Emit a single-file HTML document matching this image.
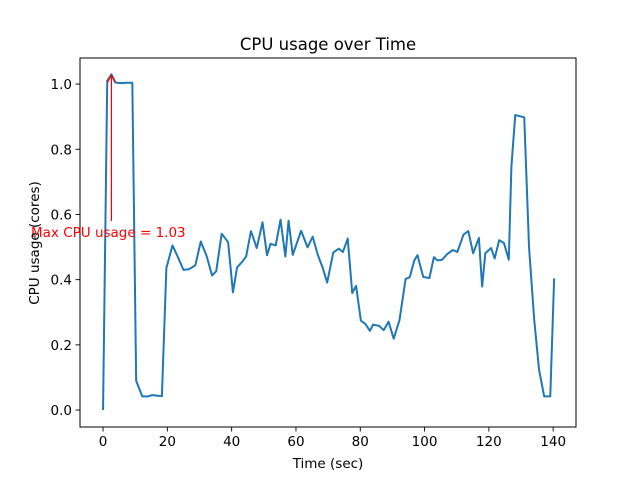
<!DOCTYPE html>
<html><head><meta charset="utf-8"><style>
html,body{margin:0;padding:0;background:#fff;}
svg text{font-family:"DejaVu Sans","Liberation Sans",sans-serif;}
</style></head><body>
<svg id="chart" width="640" height="480" viewBox="0 0 640 480">
<rect width="640" height="480" fill="#fff"/>
<text x="328" y="50" font-size="16.5" text-anchor="middle" fill="#000">CPU usage over Time</text>
<g id="plot"></g>
<text x="328" y="468" font-size="13.5" text-anchor="middle">Time (sec)</text>
<text transform="translate(39,243) rotate(-90)" font-size="13.5" text-anchor="middle">CPU usage (cores)</text>
</svg>
<script>
const times=[0,1.3,2.6,3.8,5.5,7.3,9.1,10.3,12.2,14.1,15.3,16.9,18.3,19.7,21.6,23.3,25,26.7,28.7,30.4,32.2,33.9,35.2,36.9,38.9,40.4,41.7,43.2,44.5,46,47.8,49.6,51,52.1,53.7,55.2,56.7,57.7,59,61.6,63.6,65.2,66.8,68.3,69.7,71.6,73.3,74.6,76.1,77.5,78.7,80.2,81.6,83,84,85.9,87.3,88.8,90.4,92.2,94.1,95.4,96.8,97.8,99.6,101.5,102.9,104,105.4,107.1,108.8,110.2,112.1,113.6,115.1,116.9,117.9,118.9,120.7,121.8,123.2,124.7,126.2,127,128.2,131,132.5,134.1,135.6,137.2,139.1,140.3];
const usage=[0,1.01,1.03,1.005,1.003,1.004,1.004,0.09,0.042,0.042,0.046,0.044,0.043,0.436,0.505,0.469,0.43,0.432,0.444,0.517,0.473,0.413,0.426,0.541,0.515,0.361,0.438,0.454,0.471,0.549,0.497,0.576,0.475,0.51,0.505,0.584,0.471,0.581,0.476,0.55,0.499,0.532,0.476,0.437,0.391,0.483,0.495,0.485,0.526,0.359,0.381,0.274,0.264,0.243,0.262,0.258,0.245,0.271,0.219,0.276,0.402,0.408,0.459,0.475,0.408,0.405,0.469,0.459,0.461,0.479,0.491,0.485,0.538,0.549,0.481,0.528,0.379,0.481,0.497,0.465,0.521,0.512,0.461,0.745,0.905,0.898,0.498,0.278,0.124,0.042,0.042,0.404];
const xTicks=[0,20,40,60,80,100,120,140];
const yTicks=[0,0.2,0.4,0.6,0.8,1.0];
const maxLabel="Max CPU usage = 1.03";

const L=80,R=576,T=58,B=427;
const xmin=-7.17,xmax=147.1,ymin=-0.052,ymax=1.08;
const xs=v=>L+(v-xmin)/(xmax-xmin)*(R-L);
const ys=v=>B-(v-ymin)/(ymax-ymin)*(B-T);
const NS="http://www.w3.org/2000/svg";
const g=document.getElementById('plot');
function mk(t,a,p){const e=document.createElementNS(NS,t);for(const k in a)e.setAttribute(k,a[k]);(p||g).appendChild(e);return e;}

const frame=mk('rect',{x:L,y:T,width:R-L,height:B-T,fill:'none',stroke:'#000','stroke-width':1});



xTicks.forEach(v=>{
  const x=xs(v);
  const tk=mk('line',{x1:x,x2:x,y1:B,y2:B+4.5,stroke:'#000','stroke-width':0.9});
  
  
  const tx=mk('text',{x:x,y:B+19,'font-size':13.5,'text-anchor':'middle'});
  tx.textContent=v;
  
  
});
yTicks.forEach(v=>{
  const y=ys(v);
  const tk=mk('line',{x1:L-4.5,x2:L,y1:y,y2:y,stroke:'#000','stroke-width':0.9});
  
  
  const tx=mk('text',{x:L-8,y:y+5,'font-size':13.5,'text-anchor':'end'});
  tx.textContent=v.toFixed(1);
  
  
});

const pts=times.map((t,i)=>xs(t).toFixed(2)+','+ys(usage[i]).toFixed(2)).join(' ');
const line=mk('polyline',{points:pts,fill:'none',stroke:'#1f77b4','stroke-width':2,'stroke-linejoin':'round'});



let mi=0;usage.forEach((v,i)=>{if(v>usage[mi])mi=i;});
const ax=xs(times[mi]),ay=ys(usage[mi]);
const arr=mk('line',{x1:ax,y1:ys(0.58),x2:ax,y2:ay+1,stroke:'red','stroke-width':1.2});


const head=mk('polyline',{points:`${ax-4},${ay+8} ${ax},${ay+1} ${ax+4},${ay+8}`,fill:'none',stroke:'red','stroke-width':1.2});


const lab=mk('text',{x:31,y:237,'font-size':13.5,fill:'red'});
lab.textContent=maxLabel;


</script>
</body></html>
